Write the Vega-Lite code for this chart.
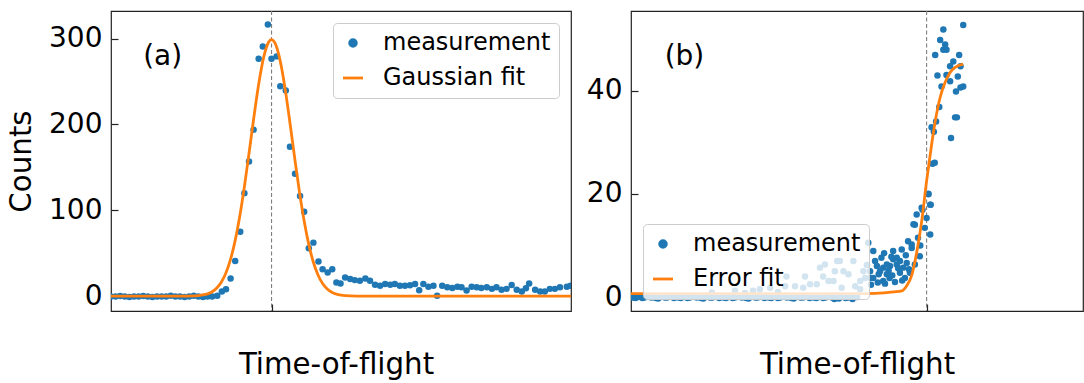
{
"$schema": "https://vega.github.io/schema/vega-lite/v6.json",
"padding": {"left": 6, "top": 9, "right": 1, "bottom": 2},
"background": "white",
"config": {
 "view": {"stroke": "#222", "strokeWidth": 1.2},
 "font": "DejaVu Sans",
 "axis": {"domain": false, "grid": false, "ticks": true, "tickColor": "#222", "tickWidth": 1.2, "tickSize": -7, "labelFont": "DejaVu Sans", "labelFontSize": 28, "labelColor": "#000", "labelPadding": 16, "titleFont": "DejaVu Sans", "titleFontSize": 29.3, "titleFontWeight": "normal", "titleColor": "#000"},
 "legend": {"title": null, "labelFontSize": 24, "labelFont": "DejaVu Sans", "labelColor": "#000", "fillColor": "rgba(255,255,255,0.8)", "strokeColor": "#cccccc", "cornerRadius": 4, "padding": 8, "symbolSize": 400, "labelOffset": 18, "rowPadding": 11, "labelLimit": 400, "offset": 12}
},
"datasets": {
 "leftPts": [
  {"t":0,"c":-0.5},{"t":1,"c":-0.5},{"t":2,"c":0},{"t":3,"c":-0.5},{"t":4,"c":-1},{"t":5,"c":-0.5},{"t":6,"c":-0.5},{"t":7,"c":0},{"t":8,"c":-0.5},{"t":9,"c":-1},{"t":10,"c":-0.5},{"t":11,"c":-0.5},{"t":12,"c":-0.5},{"t":13,"c":0.5},{"t":14,"c":-0.5},{"t":15,"c":-0.5},{"t":16,"c":-1},{"t":17,"c":-0.5},{"t":18,"c":0.5},{"t":19,"c":-0.5},{"t":20,"c":-1},{"t":21,"c":-0.5},{"t":22,"c":-0.5},
  {"t":23.1,"c":0.5},{"t":24.1,"c":5.4},{"t":25,"c":8},{"t":26,"c":20.5},{"t":27,"c":41},{"t":28.1,"c":75},{"t":29,"c":120},{"t":30,"c":157},{"t":31,"c":194},{"t":32.1,"c":276.7},{"t":33,"c":291},{"t":34.1,"c":316.5},{"t":34.9,"c":276.7},{"t":36,"c":279.4},{"t":36.8,"c":244.5},{"t":38,"c":239.5},{"t":38.9,"c":174},{"t":40,"c":142.6},{"t":41.1,"c":116.6},{"t":42,"c":98.4},{"t":43,"c":55.8},{"t":44,"c":62.3},{"t":45.1,"c":40.3},{"t":46,"c":31.4},{"t":47.1,"c":27.5},{"t":48.1,"c":31.4},{"t":49,"c":15.8},{"t":49.9,"c":14.7},{"t":50.9,"c":21.6},{"t":52,"c":19.8},{"t":53,"c":18.6},{"t":54.1,"c":17.8},{"t":55.3,"c":20.5},{"t":56.3,"c":17.8},{"t":57.4,"c":13.1},{"t":58.5,"c":12},{"t":59.6,"c":14},{"t":60.7,"c":13.1},{"t":61.7,"c":14},{"t":62.8,"c":12},{"t":63.9,"c":12},{"t":65,"c":12.7},{"t":66.1,"c":14},{"t":67,"c":6.8},{"t":67.9,"c":14},{"t":69,"c":11},{"t":70.1,"c":12},{"t":70.9,"c":0.3},{"t":72,"c":12},{"t":73.1,"c":10.3},{"t":74.2,"c":9.5},{"t":75.3,"c":11},{"t":76.2,"c":10.3},{"t":77.3,"c":6.5},{"t":78.4,"c":11},{"t":79.5,"c":10.3},{"t":80.5,"c":9.5},{"t":81.7,"c":10.3},{"t":82.8,"c":8.4},{"t":83.8,"c":10.3},{"t":84.9,"c":7.3},{"t":86,"c":8.4},{"t":87.1,"c":13},{"t":88.2,"c":7.3},{"t":89.3,"c":5.4},{"t":90.2,"c":9},{"t":90.9,"c":14.7},{"t":92.2,"c":7.3},{"t":93.3,"c":5.4},{"t":94.3,"c":5.4},{"t":95.4,"c":8.4},{"t":96.5,"c":8.4},{"t":97.6,"c":10.3},{"t":99.1,"c":11},{"t":99.9,"c":12}
 ],
 "leftFit": [
  {"t":0,"c":0},{"t":10,"c":0},{"t":15,"c":0.02},{"t":18,"c":0.27},{"t":19,"c":0.62},{"t":20,"c":1.31},{"t":21,"c":2.64},{"t":22,"c":5.09},{"t":23,"c":9.34},{"t":24,"c":16.3},{"t":25,"c":27.1},{"t":26,"c":43.0},{"t":27,"c":64.9},{"t":28,"c":93.3},{"t":29,"c":127.6},{"t":30,"c":166.2},{"t":31,"c":206.1},{"t":32,"c":243.4},{"t":33,"c":273.7},{"t":33.5,"c":285.0},{"t":34,"c":293.1},{"t":34.5,"c":297.8},{"t":34.9,"c":299},{"t":35.5,"c":296.4},{"t":36,"c":290.3},{"t":36.5,"c":280.9},{"t":37,"c":268.4},{"t":38,"c":236.3},{"t":39,"c":198.1},{"t":40,"c":158.2},{"t":41,"c":120.3},{"t":42,"c":87.1},{"t":43,"c":60.0},{"t":44,"c":39.4},{"t":45,"c":24.6},{"t":46,"c":14.7},{"t":47,"c":8.31},{"t":48,"c":4.49},{"t":49,"c":2.30},{"t":50,"c":1.13},{"t":52,"c":0.23},{"t":55,"c":0},{"t":100,"c":0}
 ],
 "rightPts": [
  {"t":0,"c":0},{"t":0.5,"c":-0.1},{"t":1,"c":-0.2},{"t":1.5,"c":0},{"t":2,"c":0.1},{"t":2.5,"c":-0.2},{"t":3,"c":-0.1},{"t":3.5,"c":0.1},{"t":4,"c":0.2},{"t":4.5,"c":-0.1},{"t":5,"c":0},{"t":5.5,"c":-0.2},{"t":6,"c":-0.3},{"t":6.5,"c":0},{"t":7,"c":0.1},{"t":7.5,"c":-0.1},{"t":8,"c":-0.1},{"t":8.5,"c":0.1},{"t":9,"c":0.2},{"t":9.5,"c":-0.2},
  {"t":10,"c":0},{"t":10.5,"c":-0.1},{"t":11,"c":-0.2},{"t":11.5,"c":0},{"t":12,"c":0.1},{"t":12.5,"c":-0.2},{"t":13,"c":-0.1},{"t":13.5,"c":0.1},{"t":14,"c":0.2},{"t":14.5,"c":-0.1},{"t":15,"c":0},{"t":15.5,"c":-0.2},{"t":16,"c":-0.3},{"t":16.5,"c":0},{"t":17,"c":0.1},{"t":17.5,"c":-0.1},{"t":18,"c":-0.1},{"t":18.5,"c":0.1},{"t":19,"c":0.2},{"t":19.5,"c":-0.2},
  {"t":20,"c":0},{"t":20.5,"c":-0.1},{"t":21,"c":-0.2},{"t":21.5,"c":0},{"t":22,"c":0.1},{"t":22.5,"c":-0.2},{"t":23,"c":-0.1},{"t":23.5,"c":0.1},{"t":24,"c":0.2},{"t":24.5,"c":-0.1},{"t":25,"c":0},{"t":25.5,"c":-0.2},{"t":26,"c":-0.3},{"t":26.5,"c":0},{"t":27,"c":0.1},{"t":27.5,"c":-0.1},{"t":28,"c":-0.1},{"t":28.5,"c":0.1},{"t":29,"c":0.2},{"t":29.5,"c":-0.2},
  {"t":30,"c":0},{"t":30.5,"c":-0.1},{"t":31,"c":-0.2},{"t":31.5,"c":0},{"t":32,"c":0.1},{"t":32.5,"c":-0.2},{"t":33,"c":-0.1},{"t":33.5,"c":0.1},{"t":34,"c":0.2},{"t":34.5,"c":-0.1},{"t":35,"c":0},{"t":35.5,"c":-0.2},{"t":36,"c":-0.3},{"t":36.5,"c":0},{"t":37,"c":0.1},{"t":37.5,"c":-0.1},{"t":38,"c":-0.1},{"t":38.5,"c":0.1},{"t":39,"c":0.2},{"t":39.5,"c":-0.2},
  {"t":40,"c":0},{"t":40.5,"c":-0.1},{"t":41,"c":-0.2},{"t":41.5,"c":0},{"t":42,"c":0.1},{"t":42.5,"c":-0.2},{"t":43,"c":-0.1},{"t":43.5,"c":0.1},{"t":44,"c":0.2},{"t":44.5,"c":-0.1},{"t":45,"c":-0.4},{"t":45.5,"c":0},{"t":46,"c":-0.3},{"t":46.5,"c":0.1},{"t":47,"c":0.1},{"t":47.5,"c":-0.2},{"t":48,"c":-0.1},{"t":48.5,"c":0.1},{"t":49,"c":-0.4},{"t":49.5,"c":0},{"t":50,"c":0},
  {"t":17.9,"c":0.9},{"t":23.0,"c":1.2},{"t":25.2,"c":0.8},{"t":27.0,"c":1.2},{"t":28.5,"c":1.5},{"t":30.8,"c":1.8},{"t":32.5,"c":1.0},{"t":34.1,"c":2.1},{"t":34.4,"c":4.0},{"t":36.3,"c":2.1},{"t":38.1,"c":1.8},{"t":38.5,"c":4.0},{"t":39.6,"c":2.5},{"t":41.1,"c":2.5},{"t":41.8,"c":5.7},{"t":42.5,"c":4.0},{"t":42.9,"c":6.3},{"t":43.7,"c":3.1},{"t":44.8,"c":3.1},{"t":45.1,"c":5.0},{"t":45.6,"c":7.0},{"t":46.2,"c":7.0},{"t":46.6,"c":1.8},{"t":47.0,"c":5.0},{"t":48.1,"c":4.4},{"t":49.2,"c":7.0},{"t":49.6,"c":2.1},{"t":50.7,"c":1.5},{"t":51.4,"c":5.0},{"t":50.7,"c":3.1},{"t":49.8,"c":0.2},
  {"t":52.5,"c":10.5},{"t":53.6,"c":8.9},{"t":52.9,"c":3.7},{"t":54.0,"c":7.0},{"t":54.4,"c":6.0},{"t":55.1,"c":5.0},{"t":55.8,"c":5.7},{"t":56.6,"c":4.4},{"t":57.3,"c":6.0},{"t":58.0,"c":8.9},{"t":58.0,"c":7.3},{"t":58.8,"c":6.3},{"t":59.5,"c":7.0},{"t":59.5,"c":4.7},{"t":60.2,"c":5.7},{"t":60.6,"c":3.7},{"t":61.3,"c":10.8},{"t":62.1,"c":9.5},{"t":62.5,"c":14.1},{"t":63.2,"c":16.0},{"t":63.9,"c":7.9},{"t":64.3,"c":17.3},{"t":65.4,"c":15.3},{"t":65.8,"c":19.9},{"t":66.2,"c":17.9},{"t":66.2,"c":12.1},{"t":61.0,"c":6.6},{"t":55.8,"c":3.1},{"t":54.6,"c":2.8},{"t":52.9,"c":5.0},{"t":57.2,"c":3.7},{"t":61.7,"c":4.7},{"t":62.8,"c":6.3},{"t":51.8,"c":3.7},{"t":53.6,"c":3.7},{"t":58.8,"c":7.6},{"t":59.9,"c":9.2},{"t":56.6,"c":6.3},{"t":65.0,"c":13.4},{"t":62.1,"c":10.2},{"t":62.8,"c":14.0},
  {"t":52.2,"c":6.2},{"t":53.1,"c":2.4},{"t":54.8,"c":4.4},{"t":55.4,"c":7.6},{"t":56.2,"c":2.6},{"t":57.0,"c":5.1},{"t":57.8,"c":4.2},{"t":58.4,"c":2.9},{"t":59.1,"c":5.6},{"t":60.0,"c":3.2},{"t":60.8,"c":8.1},{"t":61.5,"c":5.4},{"t":63.5,"c":11.5},{"t":64.0,"c":10.0},{"t":56.0,"c":8.5},{"t":57.6,"c":7.8},
  {"t":73.5,"c":52.7},{"t":69.1,"c":51.8},{"t":68.4,"c":49.8},{"t":69.5,"c":48.9},{"t":69.8,"c":47.9},{"t":69.1,"c":47.9},{"t":67.3,"c":46.9},{"t":72.6,"c":46.9},{"t":71.3,"c":45.6},{"t":70.6,"c":44.7},{"t":72.9,"c":44.7},{"t":67.8,"c":42.9},{"t":69.8,"c":43.0},{"t":72.3,"c":42.7},{"t":68.7,"c":40.8},{"t":70.6,"c":41.8},{"t":73.5,"c":40.8},{"t":72.9,"c":40.6},{"t":71.9,"c":39.8},{"t":68.2,"c":36.8},{"t":71.7,"c":34.8},{"t":72.1,"c":34.8},{"t":67.5,"c":34.0},{"t":66.5,"c":32.9},{"t":67.0,"c":32.0},{"t":70.8,"c":30.8},{"t":66.7,"c":25.8},{"t":65.8,"c":20.0},{"t":66.3,"c":17.9},{"t":64.5,"c":16.9},{"t":67.2,"c":26.0}
 ],
 "rightFit": [
  {"t":0,"c":0.65},{"t":40,"c":0.65},{"t":50,"c":0.66},{"t":54,"c":0.7},{"t":56,"c":0.8},{"t":58,"c":1.0},{"t":59.9,"c":1.2},{"t":61,"c":2.2},{"t":62.1,"c":4.2},{"t":63.2,"c":8.6},{"t":64.3,"c":14.6},{"t":65.4,"c":22.5},{"t":66.5,"c":29.5},{"t":67.3,"c":34},{"t":68.4,"c":38.7},{"t":69.5,"c":41.6},{"t":70.6,"c":43.5},{"t":71.7,"c":44.5},{"t":73.5,"c":45.1}
 ]
},
"spacing": 60,
"bounds": "flush",
"resolve": {"scale": {"color": "independent", "x": "independent", "y": "independent"}, "legend": {"color": "independent"}},
"hconcat": [
 {
  "width": 460, "height": 300,
  "layer": [
   {"data": {"values": [{"t": 34.9}]}, "mark": {"type": "rule", "strokeDash": [4, 2.5], "color": "#7f7f7f", "strokeWidth": 1.1}, "encoding": {"x": {"field": "t", "type": "quantitative", "scale": {"domain": [0, 100], "nice": false, "zero": false}}}},
   {"data": {"name": "leftPts"}, "mark": {"type": "point", "filled": true, "size": 42, "opacity": 1, "clip": true},
    "encoding": {
     "x": {"field": "t", "type": "quantitative", "scale": {"domain": [0, 100], "nice": false, "zero": false}, "axis": {"title": "Time-of-flight", "values": [34.9], "labels": false, "titlePadding": 39, "titleX": 225}},
     "y": {"field": "c", "type": "quantitative", "scale": {"domain": [-17.4, 332.3], "nice": false, "zero": false}, "axis": {"title": "Counts", "values": [0, 100, 200, 300], "titlePadding": 12}},
     "color": {"datum": "measurement", "scale": {"domain": ["measurement", "Gaussian fit"], "range": ["#1f77b4", "#ff7f0e"]},
      "legend": {"orient": "top-right",
       "encode": {"symbols": {"update": {
        "shape": {"signal": "datum.value === 'measurement' ? 'circle' : 'stroke'"},
        "size": {"signal": "datum.value === 'measurement' ? 45 : 400"},
        "fill": {"signal": "datum.value === 'measurement' ? '#1f77b4' : 'transparent'"},
        "stroke": {"signal": "datum.value === 'measurement' ? 'transparent' : '#ff7f0e'"},
        "strokeWidth": {"value": 2.8},
        "opacity": {"value": 1}}}}}}
    }},
   {"data": {"name": "leftFit"}, "mark": {"type": "line", "strokeWidth": 2.8, "interpolate": "monotone", "clip": true},
    "encoding": {"x": {"field": "t", "type": "quantitative"}, "y": {"field": "c", "type": "quantitative"},
     "color": {"datum": "Gaussian fit",
      "legend": {"orient": "top-right",
       "encode": {"symbols": {"update": {
        "shape": {"signal": "datum.value === 'measurement' ? 'circle' : 'stroke'"},
        "size": {"signal": "datum.value === 'measurement' ? 45 : 400"},
        "fill": {"signal": "datum.value === 'measurement' ? '#1f77b4' : 'transparent'"},
        "stroke": {"signal": "datum.value === 'measurement' ? 'transparent' : '#ff7f0e'"},
        "strokeWidth": {"value": 2.8},
        "opacity": {"value": 1}}}}}}}},
   {"data": {"values": [{"t": 7, "c": 278.3, "label": "(a)"}]}, "mark": {"type": "text", "align": "left", "baseline": "middle", "fontSize": 28, "font": "DejaVu Sans", "color": "#000"},
    "encoding": {"x": {"field": "t", "type": "quantitative"}, "y": {"field": "c", "type": "quantitative"}, "text": {"field": "label"}}}
  ]
 },
 {
  "width": 452, "height": 300,
  "layer": [
   {"data": {"values": [{"t": 65.4}]}, "mark": {"type": "rule", "strokeDash": [4, 2.5], "color": "#7f7f7f", "strokeWidth": 1.1}, "encoding": {"x": {"field": "t", "type": "quantitative", "scale": {"domain": [0, 100], "nice": false, "zero": false}}}},
   {"data": {"name": "rightPts"}, "mark": {"type": "point", "filled": true, "size": 42, "opacity": 1, "clip": true},
    "encoding": {
     "x": {"field": "t", "type": "quantitative", "scale": {"domain": [0, 100], "nice": false, "zero": false}, "axis": {"title": "Time-of-flight", "values": [65.4], "labels": false, "titlePadding": 39}},
     "y": {"field": "c", "type": "quantitative", "scale": {"domain": [-2.7, 55.4], "nice": false, "zero": false}, "axis": {"title": null, "values": [0, 20, 40]}},
     "color": {"datum": "measurement", "scale": {"domain": ["measurement", "Error fit"], "range": ["#1f77b4", "#ff7f0e"]},
      "legend": {"orient": "bottom-left",
       "encode": {"symbols": {"update": {
        "shape": {"signal": "datum.value === 'measurement' ? 'circle' : 'stroke'"},
        "size": {"signal": "datum.value === 'measurement' ? 45 : 400"},
        "fill": {"signal": "datum.value === 'measurement' ? '#1f77b4' : 'transparent'"},
        "stroke": {"signal": "datum.value === 'measurement' ? 'transparent' : '#ff7f0e'"},
        "strokeWidth": {"value": 2.8},
        "opacity": {"value": 1}}}}}}
    }},
   {"data": {"name": "rightFit"}, "mark": {"type": "line", "strokeWidth": 2.8, "interpolate": "monotone", "clip": true},
    "encoding": {"x": {"field": "t", "type": "quantitative"}, "y": {"field": "c", "type": "quantitative"},
     "color": {"datum": "Error fit",
      "legend": {"orient": "bottom-left",
       "encode": {"symbols": {"update": {
        "shape": {"signal": "datum.value === 'measurement' ? 'circle' : 'stroke'"},
        "size": {"signal": "datum.value === 'measurement' ? 45 : 400"},
        "fill": {"signal": "datum.value === 'measurement' ? '#1f77b4' : 'transparent'"},
        "stroke": {"signal": "datum.value === 'measurement' ? 'transparent' : '#ff7f0e'"},
        "strokeWidth": {"value": 2.8},
        "opacity": {"value": 1}}}}}}}},
   {"data": {"values": [{"t": 7.45, "c": 46.4, "label": "(b)"}]}, "mark": {"type": "text", "align": "left", "baseline": "middle", "fontSize": 28, "font": "DejaVu Sans", "color": "#000"},
    "encoding": {"x": {"field": "t", "type": "quantitative"}, "y": {"field": "c", "type": "quantitative"}, "text": {"field": "label"}}}
  ]
 }
]
}
